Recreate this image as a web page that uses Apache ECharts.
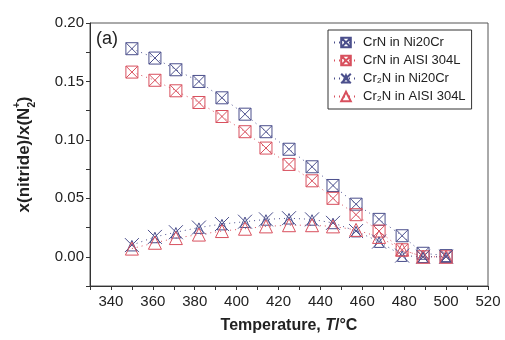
<!DOCTYPE html>
<html>
<head>
<meta charset="utf-8">
<script src="https://cdn.jsdelivr.net/npm/echarts@6/dist/echarts.min.js"></script>
<style>
  html, body { margin: 0; padding: 0; background: #fff; }
  #chart { width: 505px; height: 340px; }
</style>
</head>
<body>
<div id="chart"></div>
<script>
const temps = [350, 361, 371, 382, 393, 404, 414, 425, 436, 446, 457, 468, 479, 489, 500];
const crnNi20Cr = [0.178, 0.170, 0.160, 0.150, 0.136, 0.122, 0.107, 0.092, 0.077, 0.061, 0.045, 0.032, 0.018, 0.003, 0.001];
const crnAisi = [0.158, 0.151, 0.142, 0.132, 0.120, 0.107, 0.093, 0.079, 0.065, 0.050, 0.036, 0.022, 0.006, 0.000, 0.000];
const cr2nNi20Cr = [0.010, 0.017, 0.021, 0.025, 0.028, 0.030, 0.032, 0.033, 0.032, 0.029, 0.022, 0.013, 0.001, 0.000, 0.000];
const cr2nAisi = [0.007, 0.012, 0.016, 0.019, 0.022, 0.024, 0.026, 0.027, 0.027, 0.026, 0.023, 0.017, 0.006, 0.000, 0.000];
const seriesNames = ['CrN in Ni20Cr', 'CrN in AISI 304L', 'Cr\u2082N in Ni20Cr', 'Cr\u2082N in AISI 304L'];

const blue = '#4b4f8c';
const red = '#d8505e';
const boxX = 'path://M0,0H10V10H0Z M0,0L10,10 M10,0L0,10';
const triX = 'path://M6,2L10,11H2Z M0,0L12,12 M12,0L0,12';
const tri = 'path://M5,0L10,10H0Z';

function pairs(vals) {
  return temps.map((t, i) => [t, vals[i]]);
}
function mkSeries(name, vals, color, symbol, size) {
  return {
    name: name,
    type: 'line',
    data: pairs(vals),
    symbol: symbol,
    symbolSize: size,
    itemStyle: { color: 'rgba(255,255,255,0)', borderColor: color, borderWidth: 1 },
    lineStyle: { color: color, width: 1, type: [1, 4] },
    emphasis: { disabled: true }
  };
}

const chart = echarts.init(document.getElementById('chart'));
const labelFont = { fontFamily: 'Liberation Sans, Arial, sans-serif', fontSize: 15, color: '#222' };
chart.setOption({
  animation: false,
  grid: { left: 90, right: 17, top: 23, bottom: 54, show: true, borderColor: '#555', borderWidth: 1 },
  legend: {
    orient: 'vertical',
    left: 328, top: 30,
    itemWidth: 24, itemHeight: 12, itemGap: 5,
    padding: [6, 6, 6, 5],
    borderColor: '#333', borderWidth: 1,
    textStyle: { fontFamily: 'Liberation Sans Narrow, Liberation Sans, Arial, sans-serif', fontSize: 13, color: '#222' },
    data: seriesNames
  },
  xAxis: {
    type: 'value', min: 330, max: 520, interval: 10,
    name: 'Temperature, {i|T}/°C',
    nameLocation: 'middle', nameGap: 32,
    nameTextStyle: {
      fontFamily: 'Liberation Sans, Arial, sans-serif', fontSize: 16, fontWeight: 'bold', color: '#222',
      rich: { i: { fontFamily: 'Liberation Sans, Arial, sans-serif', fontSize: 16, fontWeight: 'bold', fontStyle: 'italic', color: '#222' } }
    },
    axisLine: { onZero: false, lineStyle: { color: '#333' } },
    axisTick: { inside: false, length: 4, lineStyle: { color: '#333' } },
    splitLine: { show: false },
    axisLabel: Object.assign({ margin: 8, formatter: v => (v % 20 === 0 ? String(v) : '') }, labelFont)
  },
  yAxis: {
    type: 'value', min: -0.025, max: 0.2, interval: 0.025,
    name: 'x(nitride)/x(N{s|2}{p|+})',
    nameLocation: 'middle', nameGap: 57,
    nameTextStyle: {
      fontFamily: 'Liberation Sans, Arial, sans-serif', fontSize: 17, fontWeight: 'bold', color: '#222',
      rich: {
        s: { fontSize: 10, fontWeight: 'bold', verticalAlign: 'bottom', padding: [0, 0, -4, 0], color: '#222' },
        p: { fontSize: 10, fontWeight: 'bold', verticalAlign: 'top', padding: [-4, 0, 0, -6], color: '#222' }
      }
    },
    axisLine: { show: true, onZero: false, lineStyle: { color: '#333' } },
    axisTick: { show: true, length: 4, lineStyle: { color: '#333' } },
    splitLine: { show: false },
    axisLabel: Object.assign({
      margin: 6,
      formatter: v => {
        const r = Math.round(v * 1000);
        return (r >= 0 && r % 50 === 0) ? (r / 1000).toFixed(2) : '';
      }
    }, labelFont)
  },
  graphic: [{
    type: 'text', left: 96, top: 30,
    style: { text: '(a)', font: '18px Liberation Sans, Arial, sans-serif', fill: '#222' }
  }],
  series: [
    mkSeries(seriesNames[0], crnNi20Cr, blue, boxX, 12),
    mkSeries(seriesNames[1], crnAisi, red, boxX, 12),
    mkSeries(seriesNames[2], cr2nNi20Cr, blue, triX, 14),
    mkSeries(seriesNames[3], cr2nAisi, red, tri, 13)
  ]
});
</script>
</body>
</html>
